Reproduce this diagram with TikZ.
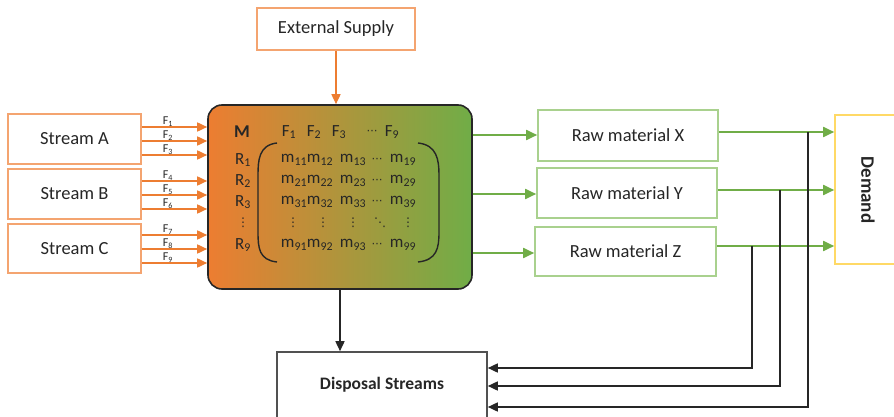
\documentclass[tikz,border=0pt]{standalone}
\usepackage{fontspec}
\setmainfont{Carlito}
\newfontfamily\dv{DejaVu Sans}
\usetikzlibrary{arrows.meta}
\definecolor{orng}{HTML}{ED7D31}
\definecolor{orngl}{HTML}{F4A470}
\definecolor{grn}{HTML}{70AD47}
\definecolor{grnl}{HTML}{A9D18E}
\definecolor{ylw}{HTML}{FFD966}
\definecolor{txt}{HTML}{262626}
\newcommand\sbs[1]{\textsubscript{#1}}
\newcommand\mydots{{\dv\fontsize{11}{12}\selectfont ⋯}}
\newcommand\myvdots{{\dv\fontsize{12}{13}\selectfont ⋮}}
\newcommand\myddots{{\dv\fontsize{12}{13}\selectfont ⋱}}
\begin{document}
\begin{tikzpicture}[x=1pt,y=-1pt,
  box/.style={draw,line width=1.6pt,inner sep=0pt,fill=white,text=txt,font=\fontsize{18.5}{20}\selectfont},
  obox/.style={box,draw=orngl},
  gbox/.style={box,draw=grnl},
  oarr/.style={color=orng,line width=1.6pt,-{Triangle[length=10pt,width=9pt]}},
  garr/.style={color=grn,line width=1.8pt,-{Triangle[length=11pt,width=10pt]}},
  karr/.style={color=txt,line width=1.6pt,-{Triangle[length=10pt,width=9pt]}},
  flab/.style={text=txt,inner sep=0pt,font=\fontsize{12}{13}\selectfont},
  mtx/.style={text=txt,inner sep=0pt,font=\fontsize{17}{18}\selectfont},
  paren/.style={draw=txt,line width=1.4pt}
]
\useasboundingbox (0,0) rectangle (894,417);

% boxes
\node[obox,minimum width=158pt,minimum height=42pt] (ES) at (336,29) {External Supply};
\node[draw=txt,line width=1.6pt,rounded corners=14pt,left color=orng,right color=grn,
      minimum width=264pt,minimum height=184pt,inner sep=0pt] (M) at (340,197) {};
\node[obox,minimum width=133pt,minimum height=50pt] (sA) at (74.5,139) {Stream A};
\node[obox,minimum width=133pt,minimum height=50pt] (sB) at (74.5,194) {Stream B};
\node[obox,minimum width=133pt,minimum height=49pt] (sC) at (74.5,248.5) {Stream C};
\node[gbox,minimum width=180pt,minimum height=51pt] (rX) at (628,135.5) {Raw material X};
\node[gbox,minimum width=180pt,minimum height=50pt] (rY) at (627,193) {Raw material Y};
\node[gbox,minimum width=181pt,minimum height=49pt] (rZ) at (625.5,251.5) {Raw material Z};
\node[box,draw=ylw,minimum width=66pt,minimum height=149pt] (Dm) at (868,189.5) {};
\node[text=txt,font=\fontsize{19}{20}\selectfont\bfseries,rotate=-90] (DmT) at (868,190) {Demand};
\node[box,draw=txt!80,minimum width=210pt,minimum height=66pt,font=\fontsize{17.5}{19}\selectfont\bfseries] (Ds) at (382,385) {Disposal Streams};

% external supply arrow
\draw[oarr] (ES.south) -- (ES.south |- M.north);

% F arrows
\foreach \y/\n/\s in {127/1/sA,141/2/sA,155/3/sA,181/4/sB,195/5/sB,209/6/sB,235/7/sC,249/8/sC,263/9/sC}{
  \draw[oarr] (\s.east |- 0,\y) -- (M.west |- 0,\y);
  \node[flab] (fl\n) at (168,\y-5) {F\sbs{\n}};
}

% matrix content
\node[mtx,font=\fontsize{18}{19}\selectfont\bfseries] (Mlab) at (242,132) {M};
\foreach \x/\t/\n in {289/F\sbs{1}/h1,314/F\sbs{2}/h2,339/F\sbs{3}/h3,372/\mydots/h4,392/F\sbs{9}/h5}{
  \node[mtx] (\n) at (\x,132) {\t};
}
\foreach \y/\r in {160/1,181/2,202/3,245/9}{
  \node[mtx] (R\r) at (243,\y) {R\sbs{\r}};
  \node[mtx] (m\r a) at (294,\y) {m\sbs{\r1}};
  \node[mtx] (m\r b) at (320,\y) {m\sbs{\r2}};
  \node[mtx] (m\r c) at (353,\y) {m\sbs{\r3}};
  \node[mtx] (m\r d) at (377,\y) {\mydots};
  \node[mtx] (m\r e) at (403,\y) {m\sbs{\r9}};
}
\node[mtx] (Rv) at (243,223) {\myvdots};
\node[mtx] (va) at (293,223) {\myvdots};
\node[mtx] (vb) at (323,223) {\myvdots};
\node[mtx] (vc) at (353,223) {\myvdots};
\node[mtx] (vd) at (380,223) {\myddots};
\node[mtx] (ve) at (408,223) {\myvdots};
\draw[paren] (277,143) .. controls (259,145) and (258,160) .. (258,175) -- (258,232) .. controls (258,248) and (259,260) .. (277,262);
\draw[paren] (418,143) .. controls (437,145) and (439,160) .. (439,175) -- (439,232) .. controls (439,248) and (437,260) .. (418,262);

% green arrows
\draw[garr] (M.east |- 0,135) -- (rX.west |- 0,135);
\draw[garr] (M.east |- 0,194) -- (rY.west |- 0,194);
\draw[garr] (M.east |- 0,253) -- (rZ.west |- 0,253);
\draw[garr] (rX.east |- 0,132) -- (Dm.west |- 0,132);
\draw[garr] (rY.east |- 0,190) -- (Dm.west |- 0,190);
\draw[garr] (rZ.east |- 0,246) -- (Dm.west |- 0,246);

% disposal
\draw[karr] (M.south) -- (M.south |- Ds.north);
\coordinate (jX) at (808,132);
\coordinate (jY) at (780,190);
\coordinate (jZ) at (752,246);
\draw[karr] (jZ) |- (Ds.east |- 0,368);
\draw[karr] (jY) |- (Ds.east |- 0,386);
\draw[karr] (jX) |- (Ds.east |- 0,407);
\end{tikzpicture}
\end{document}
